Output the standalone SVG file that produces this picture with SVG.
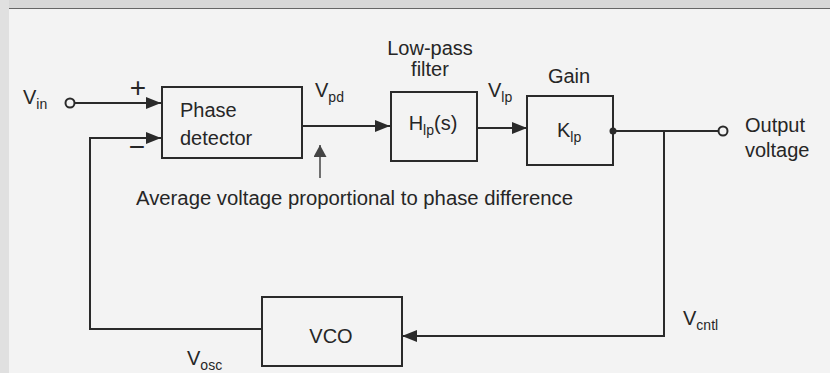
<svg xmlns="http://www.w3.org/2000/svg" width="830" height="373" viewBox="0 0 830 373">
  <defs>
    <marker id="ah" viewBox="0 0 15 12" refX="15" refY="6" markerWidth="15" markerHeight="12" markerUnits="userSpaceOnUse" orient="auto">
      <path d="M0,0 L15,6 L0,12 Z" fill="#2a2a2a"/>
    </marker>
    <marker id="ahg" viewBox="0 0 12 13" refX="12" refY="6.5" markerWidth="12" markerHeight="13" markerUnits="userSpaceOnUse" orient="auto">
      <path d="M0,0 L12,6.5 L0,13 Z" fill="#444"/>
    </marker>
    <style>
      .box { fill: none; stroke: #2a2a2a; stroke-width: 2; }
      .ln { fill: none; stroke: #2a2a2a; stroke-width: 2; }
      .t { font-family: "Liberation Sans", Arial, sans-serif; font-size: 20px; fill: #262626; }
      .sub { font-size: 14px; }
      .sign { font-size: 28px; }
    </style>
  </defs>
  <rect x="0" y="0" width="830" height="373" fill="#f3f3f3"/>
  <rect x="0" y="0" width="830" height="8" fill="#d8d8d8"/>
  <rect x="0" y="0" width="9" height="373" fill="#e0e0e0"/>
  <line x1="9" y1="8.5" x2="830" y2="8.5" stroke="#666" stroke-width="1"/>

  <g id="connectors">
    <circle cx="70" cy="103" r="4.5" fill="#f3f3f3" stroke="#2a2a2a" stroke-width="2"/>
    <line class="ln" x1="74.5" y1="103" x2="161" y2="103" marker-end="url(#ah)"/>
    <polyline class="ln" points="262,329 90,329 90,138 161,138" marker-end="url(#ah)"/>
    <line class="ln" x1="302" y1="126" x2="390" y2="126" marker-end="url(#ah)"/>
    <line class="ln" x1="477" y1="128" x2="527" y2="128" marker-end="url(#ah)"/>
    <line class="ln" x1="613" y1="131" x2="718.5" y2="131"/>
    <circle cx="613" cy="131" r="3.5" fill="#2a2a2a"/>
    <circle cx="723" cy="131" r="4.5" fill="#f3f3f3" stroke="#2a2a2a" stroke-width="2"/>
    <polyline class="ln" points="664,131 664,336 402,336" marker-end="url(#ah)"/>
    <line x1="320" y1="178" x2="320" y2="145" stroke="#444" stroke-width="1.5" marker-end="url(#ahg)"/>
  </g>

  <g id="phase-detector">
    <rect class="box" x="162" y="87" width="140" height="71"/>
    <text class="t" x="180" y="117">Phase</text>
    <text class="t" x="180" y="145">detector</text>
  </g>

  <g id="low-pass-filter">
    <rect class="box" x="391" y="92" width="86" height="69"/>
    <text class="t" x="433" y="130" text-anchor="middle">H<tspan class="sub" dy="5">lp</tspan><tspan dy="-5">(s)</tspan></text>
  </g>

  <g id="gain">
    <rect class="box" x="527" y="96" width="86" height="69"/>
    <text class="t" x="557" y="137">K<tspan class="sub" dy="5">lp</tspan></text>
  </g>

  <g id="vco">
    <rect class="box" x="262" y="297" width="140" height="69"/>
    <text class="t" x="331" y="343" text-anchor="middle">VCO</text>
  </g>

  <g id="labels">
    <text class="t" x="23" y="104">V<tspan class="sub" dy="5">in</tspan></text>
    <text class="t sign" x="138" y="97" text-anchor="middle">+</text>
    <text class="t sign" x="137" y="156" text-anchor="middle">−</text>
    <text class="t" x="315" y="97">V<tspan class="sub" dy="5">pd</tspan></text>
    <text class="t" x="488" y="97">V<tspan class="sub" dy="5">lp</tspan></text>
    <text class="t" x="430" y="55" text-anchor="middle">Low-pass</text>
    <text class="t" x="430" y="76" text-anchor="middle">filter</text>
    <text class="t" x="569" y="83" text-anchor="middle">Gain</text>
    <text class="t" x="745" y="132">Output</text>
    <text class="t" x="745" y="157">voltage</text>
    <text class="t" x="136" y="205" textLength="437" lengthAdjust="spacingAndGlyphs">Average voltage proportional to phase difference</text>
    <text class="t" x="683" y="325">V<tspan class="sub" dy="5">cntl</tspan></text>
    <text class="t" x="187" y="365">V<tspan class="sub" dy="5">osc</tspan></text>
  </g>
</svg>
